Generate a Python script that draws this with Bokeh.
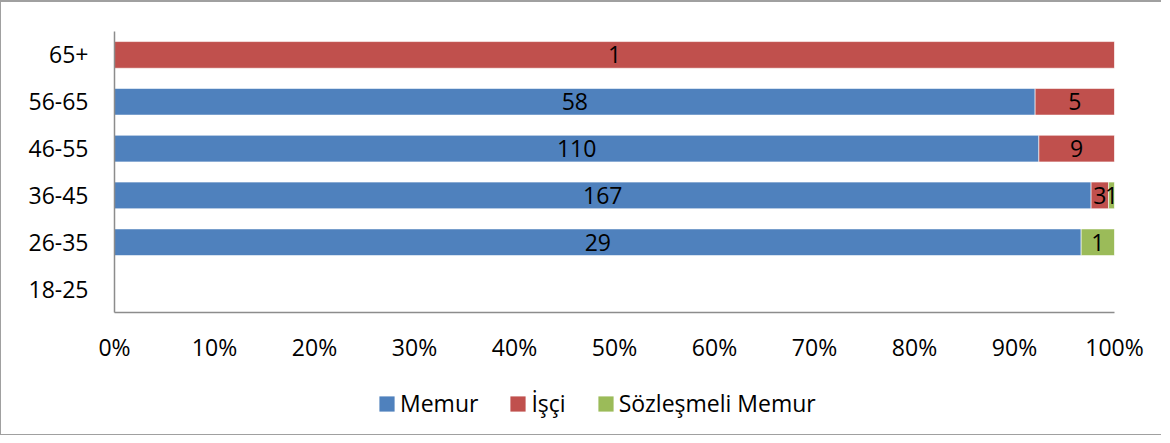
from bokeh.plotting import figure
from bokeh.layouts import column
from bokeh.models import (ColumnDataSource, FactorRange, Range1d, LabelSet,
                          Legend, LegendItem, NumeralTickFormatter, FixedTicker)
from bokeh.core.properties import value
from bokeh.embed import file_html
from bokeh.resources import INLINE

# ---- data ----
categories = ["18-25", "26-35", "36-45", "46-55", "56-65", "65+"]
memur = [0, 29, 167, 110, 58, 0]
isci = [0, 0, 3, 9, 5, 1]
sozlesmeli = [0, 1, 1, 0, 0, 0]
series_names = ["Memur", "İşçi", "Sözleşmeli Memur"]
series_values = [memur, isci, sozlesmeli]
colors = ["#4F81BD", "#C0504D", "#9BBB59"]
x_ticks = [0.0, 0.1, 0.2, 0.3, 0.4, 0.5, 0.6, 0.7, 0.8, 0.9, 1.0]

FONT = "Open Sans"
FSIZE = "23px"

p = figure(frame_width=1000, frame_height=281, output_backend="svg",
           toolbar_location=None,
           y_range=FactorRange(factors=categories, range_padding=0),
           x_range=Range1d(0, 1),
           min_border_left=113, min_border_right=47,
           min_border_top=29, min_border_bottom=70)
p.outline_line_color = None
p.xgrid.grid_line_color = None
p.ygrid.grid_line_color = None
p.background_fill_color = "white"
p.border_fill_color = "white"

totals = [sum(v[i] for v in series_values) for i in range(len(categories))]
cum = [0.0] * len(categories)
lab_x, lab_y, lab_t = [], [], []
for name, vals, col in zip(series_names, series_values, colors):
    ys, ls, rs = [], [], []
    for i, c in enumerate(categories):
        if totals[i] == 0 or vals[i] == 0:
            continue
        left = cum[i]
        right = cum[i] + vals[i] / totals[i]
        ys.append(c)
        ls.append(left)
        rs.append(right)
        lab_x.append((left + right) / 2)
        lab_y.append(c)
        lab_t.append(str(vals[i]))
        cum[i] = right
    src = ColumnDataSource(dict(y=ys, left=ls, right=rs))
    p.hbar(y="y", left="left", right="right", height=0.57, source=src,
           fill_color=col, line_color="white", line_alpha=0.6, line_width=1)

labels = LabelSet(x="x", y="y", text="t",
                  source=ColumnDataSource(dict(x=lab_x, y=lab_y, t=lab_t)),
                  text_align="center", text_baseline="middle",
                  text_font=value(FONT), text_font_size=value(FSIZE),
                  text_color="black")
p.add_layout(labels)

for ax in (p.xaxis[0], p.yaxis[0]):
    ax.axis_line_color = "#8c8c8c"
    ax.axis_line_width = 1.5
    ax.major_tick_line_color = None
    ax.minor_tick_line_color = None
    ax.major_tick_out = 0
    ax.major_tick_in = 0
    ax.major_label_text_font = FONT
    ax.major_label_text_font_size = FSIZE
    ax.major_label_text_color = "black"

p.xaxis.ticker = FixedTicker(ticks=x_ticks)
p.xaxis.formatter = NumeralTickFormatter(format="0%")
p.xaxis.major_label_standoff = 18
p.yaxis.major_label_standoff = 26

# ---- legend strip (separate figure so it is not clipped by the frame) ----
lg = figure(width=1160, height=52, output_backend="svg", toolbar_location=None,
            x_range=Range1d(0, 1), y_range=Range1d(0, 1),
            x_axis_type=None, y_axis_type=None,
            min_border_left=0, min_border_right=0,
            min_border_top=0, min_border_bottom=0)
lg.outline_line_color = None
lg.xgrid.grid_line_color = None
lg.ygrid.grid_line_color = None
lg.border_fill_color = "white"
items = []
for name, col in zip(series_names, colors):
    # legend-only swatch renderer, kept outside the visible range
    r = lg.hbar(y=[5], left=[0], right=[0], height=0.5,
                fill_color=col, line_color=None)
    items.append(LegendItem(label=name, renderers=[r]))

legend = Legend(items=items, orientation="horizontal",
                location=(263, 15), padding=0, margin=0, spacing=30,
                glyph_width=19, glyph_height=19, label_standoff=4,
                label_text_font=FONT, label_text_font_size=FSIZE,
                label_text_color="black", label_height=15,
                border_line_color=None, background_fill_alpha=0)
lg.add_layout(legend)

layout = column(p, lg, spacing=0)
layout.styles = {"border-top": "2px solid #a0a0a0", "border-left": "1px solid #a0a0a0",
                 "border-bottom": "1px solid #a0a0a0"}

open("out.html", "w").write(file_html(layout, INLINE))
